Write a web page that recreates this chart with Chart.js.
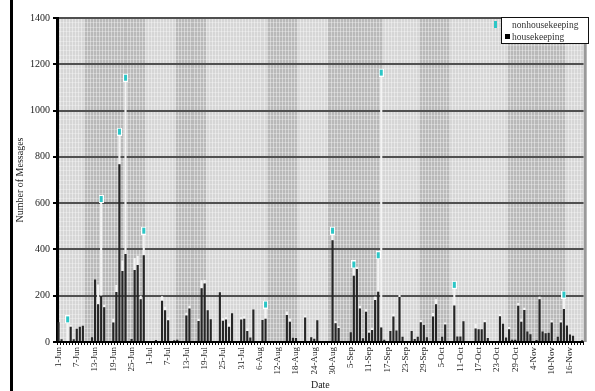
<!DOCTYPE html>
<html>
<head>
<meta charset="utf-8">
<script src="https://cdn.jsdelivr.net/npm/chart.js@4"></script>
<style>
  body { margin: 0; background: #fff; }
  #wrap { position: relative; width: 595px; height: 391px; font-family: 'Liberation Serif', serif; }
  #edge { position: absolute; left: 10px; top: 0; width: 3px; height: 391px; background: #000; }
  #legend { position: absolute; left: 501px; top: 17px; width: 86px; height: 25px; border: 1.5px solid #111; background: #fff; font-size: 9.5px; color: #333; }
  .item { position: absolute; left: 10px; white-space: nowrap; line-height: 10px; }
  .sw { position: absolute; }
</style>
</head>
<body>
<div id="wrap">
  <canvas id="grafico" width="595" height="391"></canvas>
  <div id="edge"></div>
  <div id="legend"></div>
</div>
<script>
// one bar per day, 1-Jun .. 20-Nov
const monthNames = ['Jan', 'Feb', 'Mar', 'Apr', 'May', 'Jun', 'Jul', 'Aug', 'Sep', 'Oct', 'Nov', 'Dec']
const dates = []
for (let i = 0; i < 173; i++) {
  const d = new Date(2001, 5, 1 + i)
  dates.push(`${d.getDate()}-${monthNames[d.getMonth()]}`)
}

const housekeeping = [
  85, 12, 0, 0, 66, 12, 57, 66, 70, 0,
  0, 20, 270, 163, 200, 150, 0, 0, 84, 216,
  768, 307, 380, 0, 13, 311, 333, 185, 375, 0,
  0, 0, 9, 0, 178, 137, 94, 0, 8, 10,
  0, 0, 114, 145, 0, 0, 91, 232, 253, 137,
  98, 0, 0, 215, 92, 97, 66, 124, 0, 0,
  97, 101, 48, 19, 140, 0, 0, 95, 101, 0,
  0, 0, 0, 0, 0, 117, 88, 18, 17, 0,
  0, 106, 0, 20, 14, 94, 0, 0, 0, 0,
  440, 81, 60, 0, 0, 0, 42, 286, 315, 145,
  16, 131, 40, 52, 181, 217, 63, 10, 0, 48,
  110, 50, 194, 23, 0, 0, 48, 13, 23, 85,
  73, 20, 0, 110, 163, 0, 23, 76, 0, 0,
  158, 24, 24, 90, 0, 0, 0, 58, 55, 55,
  85, 17, 0, 0, 0, 111, 79, 19, 55, 10,
  10, 157, 88, 138, 45, 33, 0, 9, 185, 45,
  38, 40, 84, 0, 23, 84, 143, 71, 32, 27,
  0, 0, 8
]

const nonhousekeeping = [
  0, 0, 0, 98, 8, 0, 0, 0, 0, 0,
  0, 0, 0, 85, 418, 10, 0, 0, 15, 30,
  141, 45, 762, 0, 0, 52, 40, 15, 106, 0,
  0, 0, 0, 0, 20, 15, 12, 0, 0, 0,
  0, 0, 12, 12, 0, 0, 8, 35, 15, 0,
  0, 0, 0, 0, 12, 10, 14, 0, 0, 0,
  10, 10, 10, 0, 0, 0, 0, 0, 61, 0,
  0, 0, 0, 0, 0, 15, 12, 0, 0, 0,
  0, 8, 0, 0, 0, 0, 0, 0, 0, 0,
  41, 10, 8, 0, 0, 0, 0, 49, 10, 12,
  0, 10, 10, 10, 15, 158, 1101, 0, 0, 0,
  12, 0, 10, 0, 0, 0, 0, 0, 0, 10,
  0, 0, 0, 15, 22, 0, 0, 8, 0, 0,
  89, 0, 0, 0, 0, 0, 0, 20, 0, 0,
  10, 0, 0, 0, 0, 10, 0, 0, 10, 0,
  0, 12, 10, 10, 0, 0, 0, 0, 10, 0,
  0, 0, 10, 0, 0, 10, 62, 0, 0, 0,
  0, 0, 0
]

// days with a flag on top of the stack
const flaggedDays = ['4-Jun', '15-Jun', '21-Jun', '23-Jun', '29-Jun', '8-Aug', '30-Aug', '6-Sep', '14-Sep', '15-Sep', '9-Oct', '14-Nov']

// darker background periods (first day, last day)
const shadedSpans = [
  ['10-Jun', '29-Jun'], ['10-Jul', '19-Jul'], ['9-Aug', '18-Aug'],
  ['29-Aug', '15-Sep'], ['28-Sep', '7-Oct'], ['27-Oct', '14-Nov']
]

const seriesNames = ['nonhousekeeping', 'housekeeping']

const fonte = 'Liberation Serif'
const texto = '#222'

const flagData = dates.map((d, i) => flaggedDays.includes(d) ? housekeeping[i] + nonhousekeeping[i] : null)

// small cyan flag with white rim
const flag = document.createElement('canvas')
flag.width = 5
flag.height = 8
const fc = flag.getContext('2d')
fc.fillStyle = '#fff'
fc.fillRect(0, 0, 5, 8)
fc.fillStyle = '#2cc6c6'
fc.fillRect(1, 1, 3, 6)

const fundo = {
  id: 'fundo',
  beforeDraw(chart) {
    const { ctx, chartArea: a, scales: { x } } = chart
    const w = (x.right - x.left) / dates.length
    ctx.save()
    ctx.fillStyle = '#d6d6d6'
    ctx.fillRect(a.left, a.top, a.right - a.left, a.bottom - a.top)
    ctx.fillStyle = '#b9b9b9'
    shadedSpans.forEach(([ini, fim]) => {
      const x0 = x.getPixelForValue(dates.indexOf(ini)) - w / 2
      const x1 = x.getPixelForValue(dates.indexOf(fim)) + w / 2
      ctx.fillRect(x0, a.top, x1 - x0, a.bottom - a.top)
    })
    ctx.restore()
  },
  afterDraw(chart) {
    const { ctx, chartArea: a } = chart
    ctx.save()
    ctx.fillStyle = '#999'
    ctx.fillRect(a.right, a.top - 1, 3, a.bottom - a.top + 1)
    ctx.restore()
  }
}

const chart = new Chart(document.getElementById('grafico'), {
  type: 'bar',
  data: {
    labels: dates,
    datasets: [
      {
        type: 'line',
        label: '',
        data: flagData,
        showLine: false,
        pointStyle: flag,
        pointRadius: 4,
        stack: 'flags',
        order: 0
      },
      {
        label: seriesNames[1],
        data: housekeeping,
        backgroundColor: '#262626',
        barPercentage: 0.7,
        categoryPercentage: 1,
        order: 1
      },
      {
        label: seriesNames[0],
        data: nonhousekeeping,
        backgroundColor: '#f4f4f4',
        barPercentage: 0.7,
        categoryPercentage: 1,
        order: 1
      }
    ]
  },
  options: {
    responsive: false,
    animation: false,
    layout: { padding: { left: 14, right: 11, top: 18, bottom: 0 } },
    plugins: {
      legend: { display: false },
      tooltip: { enabled: false }
    },
    scales: {
      x: {
        stacked: true,
        ticks: {
          autoSkip: false,
          minRotation: 90,
          maxRotation: 90,
          callback: (v, i) => i % 6 === 0 ? dates[i] : '',
          font: { family: fonte, size: 9 },
          color: texto,
          padding: 2
        },
        grid: { color: 'rgba(255,255,255,0.4)', tickColor: '#000', tickLength: 3 },
        border: { color: '#000', width: 2 },
        title: { display: true, text: 'Date', font: { family: fonte, size: 10 }, color: texto, padding: 0 },
        afterFit: s => { s.height = 49 }
      },
      y: {
        stacked: true,
        min: 0,
        max: 1400,
        ticks: {
          stepSize: 20,
          autoSkip: false,
          callback: v => v % 200 === 0 ? v : '',
          font: { family: fonte, size: 10 },
          color: texto,
          padding: 3
        },
        grid: {
          color: c => c.tick.value % 200 === 0 ? '#505050' : 'rgba(255,255,255,0.3)',
          lineWidth: c => c.tick.value % 200 === 0 ? 2 : 1,
          tickColor: c => c.tick.value % 200 === 0 ? '#000' : 'rgba(0,0,0,0)',
          tickLength: 4
        },
        border: { color: '#000', width: 3 },
        title: { display: true, text: 'Number of Messages', font: { family: fonte, size: 10 }, color: texto, padding: 0 },
        afterFit: s => { s.width = 43 }
      }
    }
  },
  plugins: [fundo]
})

// legend box drawn over the top right corner
const legend = document.getElementById('legend')
const swatch = { nonhousekeeping: '#2cc6c6', housekeeping: '#000' }
seriesNames.forEach((name, i) => {
  const item = document.createElement('div')
  item.className = 'item'
  item.style.top = (2 + i * 12) + 'px'
  item.textContent = name
  const sw = document.createElement('span')
  sw.className = 'sw'
  sw.style.background = swatch[name]
  if (i === 0) {
    sw.style.left = '-18px'; sw.style.top = '1px'; sw.style.width = '3px'; sw.style.height = '7px'
  } else {
    sw.style.left = '-7px'; sw.style.top = '2px'; sw.style.width = '5px'; sw.style.height = '5px'
  }
  item.appendChild(sw)
  legend.appendChild(item)
})
</script>
</body>
</html>
